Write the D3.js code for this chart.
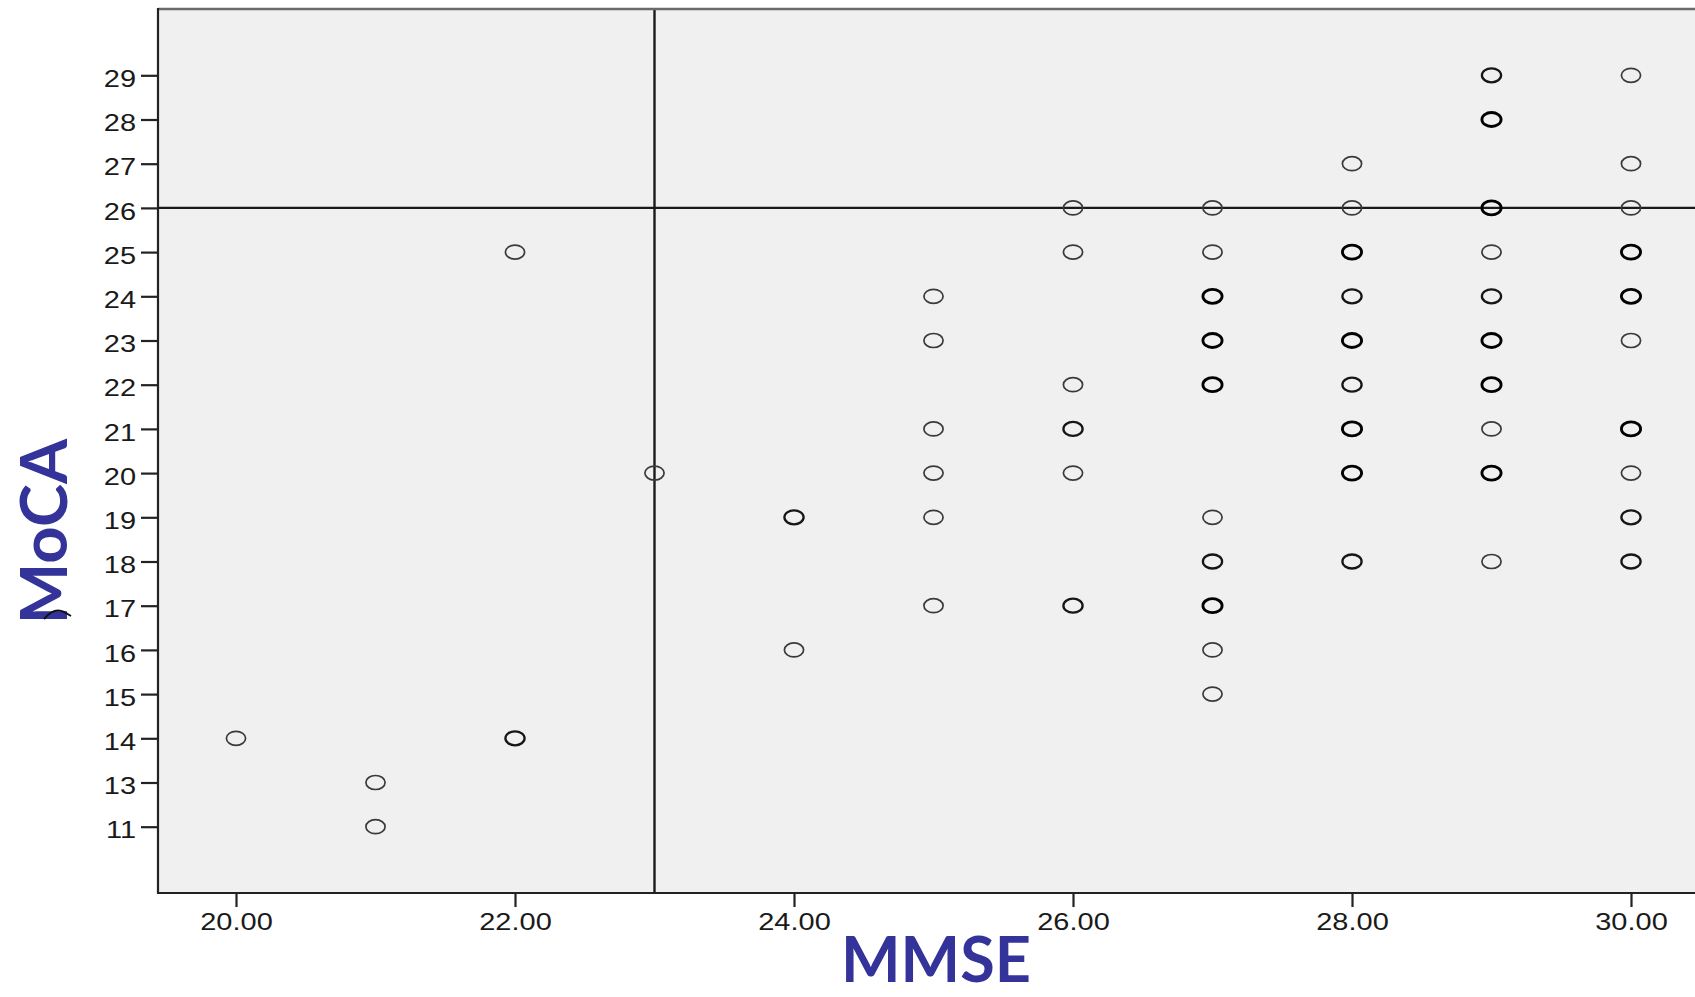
<!DOCTYPE html>
<html>
<head>
<meta charset="utf-8">
<script src="https://cdn.jsdelivr.net/npm/d3@7"></script>
<style>
  html, body { margin: 0; padding: 0; background: #ffffff; }
  svg { display: block; }
</style>
</head>
<body>
<svg id="chart" width="1695" height="997"></svg>
<script>
// ---- data ----
const mmseTicks = [20, 22, 24, 26, 28, 30];
const mocaCategories = ["11","13","14","15","16","17","18","19","20","21","22","23","24","25","26","27","28","29"];

// each point: MMSE score, MoCA score, number of overlapping cases (darkness of ring)
const mmse  = [20, 21, 21, 22, 22, 23, 24, 24,
               25, 25, 25, 25, 25, 25,
               26, 26, 26, 26, 26, 26,
               27, 27, 27, 27, 27, 27, 27, 27, 27, 27,
               28, 28, 28, 28, 28, 28, 28, 28, 28,
               29, 29, 29, 29, 29, 29, 29, 29, 29, 29,
               30, 30, 30, 30, 30, 30, 30, 30, 30, 30];
const moca  = [14, 13, 11, 25, 14, 20, 19, 16,
               24, 23, 21, 20, 19, 17,
               26, 25, 22, 21, 20, 17,
               26, 25, 24, 23, 22, 19, 18, 17, 16, 15,
               27, 26, 25, 24, 23, 22, 21, 20, 18,
               29, 28, 26, 25, 24, 23, 22, 21, 20, 18,
               29, 27, 26, 25, 24, 23, 21, 20, 19, 18];
const count = [1, 1, 1, 1, 2, 1, 2, 1,
               1, 1, 1, 1, 1, 1,
               1, 1, 1, 2, 1, 2,
               1, 1, 3, 3, 3, 1, 2, 3, 1, 1,
               1, 1, 3, 2, 3, 2, 3, 3, 2,
               2, 3, 3, 1, 2, 3, 3, 1, 3, 1,
               1, 1, 1, 3, 3, 1, 3, 1, 2, 2];

const mmseCutoff = 23;
const mocaCutoff = "26";
const xTitle = "MMSE";
const yTitle = "MoCA";

// ---- layout ----
const plotLeft = 158, plotTop = 9, plotBottom = 893, plotRight = 1710;
const svg = d3.select("#chart");

const x = d3.scaleLinear().domain([20, 30]).range([236, 1631]);
const y = d3.scalePoint().domain(mocaCategories).range([plotBottom, plotTop]).padding(1.5);

const textStretch = 1.26;

// plot background
svg.append("rect")
  .attr("x", plotLeft).attr("y", plotTop)
  .attr("width", plotRight - plotLeft).attr("height", plotBottom - plotTop)
  .attr("fill", "#f0f0f0");

// reference lines
svg.append("line")
  .attr("x1", plotLeft).attr("x2", plotRight)
  .attr("y1", y(mocaCutoff)).attr("y2", y(mocaCutoff))
  .attr("stroke", "#1a1a1a").attr("stroke-width", 2.4);
svg.append("line")
  .attr("x1", x(mmseCutoff)).attr("x2", x(mmseCutoff))
  .attr("y1", plotTop).attr("y2", plotBottom)
  .attr("stroke", "#1a1a1a").attr("stroke-width", 2.4);

// points
const points = mmse.map((d, i) => ({ mx: d, my: String(moca[i]), n: count[i] }));
const strokeColor = n => n >= 3 ? "#000" : (n === 2 ? "#161616" : "#3a3a3a");
const strokeWidth = n => n >= 3 ? 2.8 : (n === 2 ? 2.3 : 1.7);

svg.append("g").selectAll("ellipse")
  .data(points)
  .join("ellipse")
  .attr("cx", d => x(d.mx))
  .attr("cy", d => y(d.my))
  .attr("rx", 9.6)
  .attr("ry", 7)
  .attr("fill", "none")
  .attr("stroke", d => strokeColor(d.n))
  .attr("stroke-width", d => strokeWidth(d.n));

// frame
svg.append("line")
  .attr("x1", plotLeft).attr("x2", plotRight)
  .attr("y1", plotTop).attr("y2", plotTop)
  .attr("stroke", "#6a6a6a").attr("stroke-width", 2.5);
svg.append("line")
  .attr("x1", plotLeft).attr("x2", plotLeft)
  .attr("y1", plotTop - 1).attr("y2", plotBottom + 1)
  .attr("stroke", "#222").attr("stroke-width", 2.2);
svg.append("line")
  .attr("x1", plotLeft - 1).attr("x2", plotRight)
  .attr("y1", plotBottom).attr("y2", plotBottom)
  .attr("stroke", "#222").attr("stroke-width", 2.2);

// y axis
const yAxis = svg.append("g")
  .attr("transform", `translate(${plotLeft},0)`)
  .call(d3.axisLeft(y).tickSize(17).tickSizeOuter(0));
yAxis.select(".domain").remove();
yAxis.selectAll(".tick line").attr("stroke", "#222").attr("stroke-width", 2.2);
yAxis.selectAll(".tick text")
  .attr("x", -22 / textStretch)
  .attr("dy", "0.49em")
  .attr("transform", `scale(${textStretch},1)`)
  .attr("fill", "#1a1a1a")
  .style("font-family", "'Liberation Sans', Arial, sans-serif")
  .style("font-size", "23px");

// x axis
const xAxis = svg.append("g")
  .attr("transform", `translate(0,${plotBottom})`)
  .call(d3.axisBottom(x).tickValues(mmseTicks).tickFormat(d => d.toFixed(2)).tickSize(14).tickSizeOuter(0));
xAxis.select(".domain").remove();
xAxis.selectAll(".tick line").attr("stroke", "#222").attr("stroke-width", 2.2);
xAxis.selectAll(".tick text")
  .attr("y", 37)
  .attr("dy", 0)
  .attr("transform", `scale(${textStretch},1)`)
  .attr("fill", "#1a1a1a")
  .style("font-family", "'Liberation Sans', Arial, sans-serif")
  .style("font-size", "23px");

// axis titles
svg.append("text")
  .attr("x", 936).attr("y", 982)
  .attr("text-anchor", "middle")
  .attr("fill", "#333399")
  .style("font-family", "Lato, 'Open Sans', sans-serif")
  .style("font-weight", 700)
  .style("font-size", "63px")
  .text(xTitle);

svg.append("text")
  .attr("transform", "translate(67,531.5) rotate(-90)")
  .attr("text-anchor", "middle")
  .attr("fill", "#333399")
  .style("font-family", "Lato, 'Open Sans', sans-serif")
  .style("font-weight", 700)
  .style("font-size", "65px")
  .text(yTitle);

// small leftover mark visible under the MoCA title
svg.append("path")
  .attr("d", "M44,619 Q54,607 64,612 L71,616")
  .attr("fill", "none")
  .attr("stroke", "#111")
  .attr("stroke-width", 2);
</script>
</body>
</html>
